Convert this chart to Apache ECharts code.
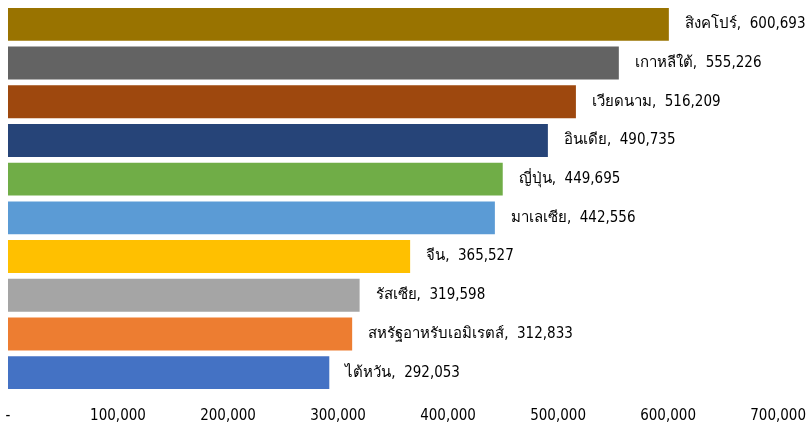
<!DOCTYPE html>
<html>
<head>
<meta charset="utf-8">
<script src="https://cdn.jsdelivr.net/npm/echarts@6/dist/echarts.min.js"></script>
<style>
html,body{margin:0;padding:0;background:#fff;}
#chart{width:809px;height:427px;}
</style>
</head>
<body>
<div id="chart"></div>
<script>
const categories = ['ไต้หวัน','สหรัฐอาหรับเอมิเรตส์','รัสเซีย','จีน','มาเลเซีย','ญี่ปุ่น','อินเดีย','เวียดนาม','เกาหลีใต้','สิงคโปร์'];
const values = [292053,312833,319598,365527,442556,449695,490735,516209,555226,600693];
const colors = ['#4472C4','#ED7D31','#A5A5A5','#FFC000','#5B9BD5','#70AD47','#264478','#9E480E','#636363','#997300'];
const tickLabels = ['-','100,000','200,000','300,000','400,000','500,000','600,000','700,000'];

const fmt = v => v.toLocaleString('en-US');
const chart = echarts.init(document.getElementById('chart'));
chart.setOption({
  animation:false,
  textStyle:{fontFamily:'DejaVu Sans Condensed, DejaVu Sans, sans-serif'},
  grid:{left:8,right:30,top:5,bottom:35,containLabel:false},
  xAxis:{type:'value',min:0,max:700000,interval:100000,
    axisLine:{show:false},axisTick:{show:false},splitLine:{show:false},
    axisLabel:{margin:17,fontSize:15,color:'#000',formatter:(v)=>tickLabels[Math.round(v/100000)]}},
  yAxis:{type:'category',data:categories,axisLine:{show:false},axisTick:{show:false},axisLabel:{show:false}},
  series:[{type:'bar',barCategoryGap:'15%',
    data:values.map((v,i)=>({value:v,itemStyle:{color:colors[i]}})),
    label:{show:true,position:'right',distance:16,fontSize:15,color:'#000',
      formatter:p=>p.name+',  '+fmt(p.value)}}]
});
</script>
</body>
</html>
